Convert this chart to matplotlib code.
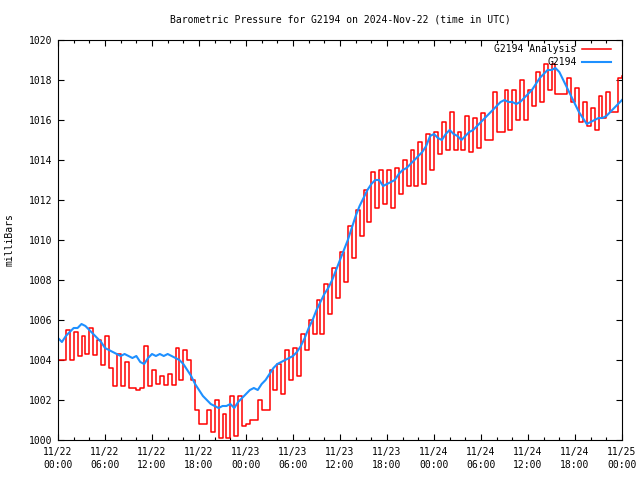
import matplotlib
matplotlib.use('Agg')
import matplotlib.pyplot as plt
import matplotlib.dates as mdates
import numpy as np
import pandas as pd

# half-hourly readings, starting 2024-11-22 00:00 UTC
start = '2024-11-22 00:00'
step = '30min'

analysis = [
    1004.0, 1004.0, 1005.5, 1004.0, 1005.4, 1004.2, 1005.2, 1004.3, 1005.6, 1004.25,
    1005.0, 1003.75, 1005.2, 1003.6, 1002.7, 1004.3, 1002.7, 1003.9, 1002.6, 1002.6,
    1002.5, 1002.6, 1004.7, 1002.7, 1003.5, 1002.8, 1003.2, 1002.75, 1003.3, 1002.75,
    1004.6, 1003.0, 1004.5, 1004.0, 1003.0, 1001.5, 1000.8, 1000.8, 1001.5, 1000.4,
    1002.0, 1000.1, 1001.3, 1000.1, 1002.2, 1000.2, 1002.2, 1000.7, 1000.8, 1001.0,
    1001.0, 1002.0, 1001.5, 1001.5, 1003.5, 1002.5, 1003.8, 1002.3, 1004.5, 1003.0,
    1004.6, 1003.2, 1005.3, 1004.5, 1006.0, 1005.3, 1007.0, 1005.3, 1007.8, 1006.3,
    1008.6, 1007.1, 1009.4, 1007.9, 1010.7, 1009.1, 1011.5, 1010.2, 1012.5, 1010.9,
    1013.4, 1011.6, 1013.5, 1011.8, 1013.5, 1011.6, 1013.6, 1012.3, 1014.0, 1012.7,
    1014.5, 1012.7, 1014.9, 1012.8, 1015.3, 1013.5, 1015.4, 1014.3, 1015.9, 1014.5,
    1016.4, 1014.5, 1015.4, 1014.5, 1016.2, 1014.4, 1016.1, 1014.6, 1016.35, 1015.0,
    1015.0, 1017.4, 1015.4, 1015.4, 1017.5, 1015.5, 1017.5, 1016.0, 1018.0, 1016.0,
    1017.5, 1016.7, 1018.4, 1016.9, 1018.8, 1017.5, 1018.8, 1017.3, 1017.3, 1017.3,
    1018.1, 1016.9, 1017.6, 1015.9, 1016.9, 1015.7, 1016.6, 1015.5, 1017.2, 1016.1,
    1017.4, 1016.4, 1016.4, 1018.1, 1018.2,
]

station = [
    1005.1, 1004.9, 1005.2, 1005.4, 1005.6, 1005.6, 1005.8, 1005.7, 1005.5, 1005.3,
    1005.1, 1004.9, 1004.6, 1004.5, 1004.4, 1004.3, 1004.2, 1004.3, 1004.2, 1004.1,
    1004.2, 1003.9, 1003.8, 1004.1, 1004.3, 1004.2, 1004.3, 1004.2, 1004.3, 1004.2,
    1004.1, 1004.0, 1003.8, 1003.5, 1003.2, 1002.8, 1002.5, 1002.2, 1002.0, 1001.8,
    1001.7, 1001.6, 1001.7, 1001.7, 1001.8, 1001.6, 1001.9, 1002.1, 1002.3, 1002.5,
    1002.6, 1002.5, 1002.8, 1003.0, 1003.3, 1003.6, 1003.8, 1003.9, 1004.0, 1004.1,
    1004.2, 1004.4, 1004.7, 1005.1, 1005.6, 1006.0, 1006.5, 1006.9, 1007.3, 1007.6,
    1008.0, 1008.5, 1009.0, 1009.5, 1010.0, 1010.6, 1011.2, 1011.7, 1012.1, 1012.5,
    1012.8, 1013.0, 1013.0, 1012.7, 1012.8, 1012.9, 1013.0, 1013.3, 1013.5, 1013.6,
    1013.8, 1014.0, 1014.2, 1014.4, 1014.7, 1015.2, 1015.3, 1015.1, 1015.0, 1015.3,
    1015.5, 1015.3, 1015.2, 1015.0, 1015.2, 1015.4, 1015.5, 1015.7, 1015.9, 1016.1,
    1016.3, 1016.5, 1016.7, 1016.9, 1017.0, 1016.9, 1016.9, 1016.8, 1016.9, 1017.1,
    1017.3, 1017.5, 1017.8, 1018.1, 1018.3, 1018.5, 1018.5, 1018.6, 1018.4, 1018.0,
    1017.6, 1017.2, 1016.8, 1016.4, 1016.1, 1015.8, 1015.9, 1016.0, 1016.1, 1016.1,
    1016.2, 1016.4, 1016.6, 1016.8, 1017.0,
]

t_analysis = pd.date_range(start, periods=len(analysis), freq=step)
t_station = pd.date_range(start, periods=len(station), freq=step)

plt.rcParams['font.family'] = 'DejaVu Sans Mono'
plt.rcParams['font.size'] = 7

fig = plt.figure(figsize=(6.4, 4.8), dpi=100)
ax = fig.add_axes([58 / 640, 40 / 480, 564 / 640, 400 / 480])

ax.plot(t_analysis, analysis, color='#ff0000', lw=1.1, drawstyle='steps-post',
        label='G2194 Analysis')
ax.plot(t_station, station, color='#1e90ff', lw=1.5, label='G2194')

ax.set_xlim(pd.Timestamp('2024-11-22 00:00'), pd.Timestamp('2024-11-25 00:00'))
ax.set_ylim(1000, 1020)
ax.set_yticks(np.arange(1000, 1021, 2))

ax.xaxis.set_major_locator(mdates.HourLocator(byhour=range(0, 24, 6)))
ax.xaxis.set_minor_locator(mdates.HourLocator(byhour=range(0, 24, 2)))
ax.xaxis.set_major_formatter(mdates.DateFormatter('%m/%d\n%H:%M'))

ax.tick_params(which='both', direction='in', top=True, right=True, width=0.8)
ax.tick_params(which='major', length=4.5)
ax.tick_params(which='minor', length=2.5)
ax.tick_params(axis='x', which='major', pad=5)
ax.tick_params(axis='y', pad=4)
for lbl in ax.get_xticklabels():
    lbl.set_linespacing(1.4)
for s in ax.spines.values():
    s.set_linewidth(0.8)

# gnuplot-style key: labels right-aligned, sample line after the text
leg = ax.legend(loc='upper right', bbox_to_anchor=(0.98, 0.99), frameon=False,
                markerfirst=False, handlelength=3.0, handletextpad=0.5,
                labelspacing=0.35, borderaxespad=0, borderpad=0, fontsize=7)

fig.text(340 / 640, 1 - 19 / 480, 'Barometric Pressure for G2194 on 2024-Nov-22 (time in UTC)',
         ha='center', va='center')
fig.text(10 / 640, 0.5, 'milliBars', rotation=90, ha='center', va='center')

plt.savefig('out.png', dpi=100)
